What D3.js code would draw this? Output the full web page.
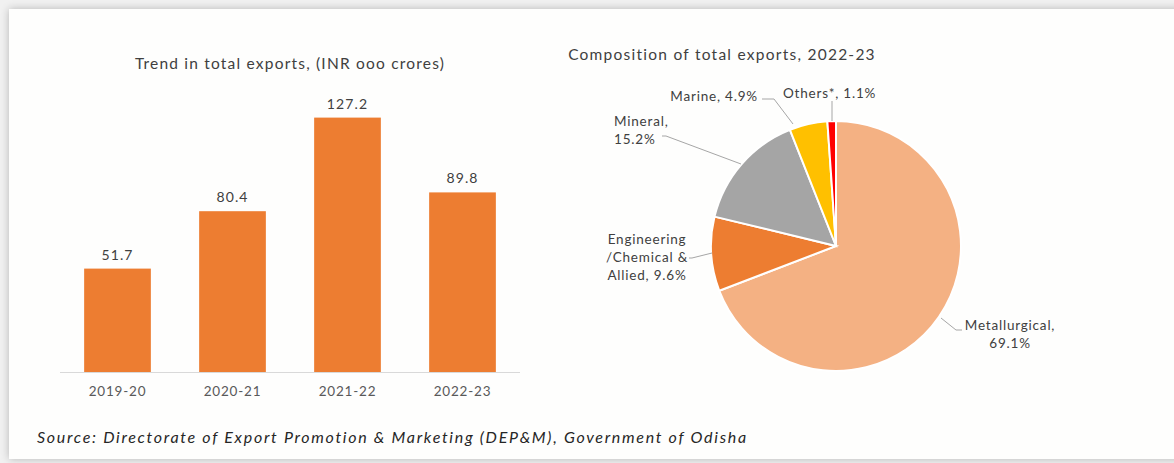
<!DOCTYPE html>
<html>
<head>
<meta charset="utf-8">
<script src="https://cdn.jsdelivr.net/npm/d3@7"></script>
<style>
  html, body { margin: 0; padding: 0; background: #ececec; }
  svg { display: block; font-family: "Lato", "Noto Sans", sans-serif; }
</style>
</head>
<body>
<div id="chart"></div>
<script>
// data
const years = ["2019-20", "2020-21", "2021-22", "2022-23"];
const exportsValue = [51.7, 80.4, 127.2, 89.8];

const sectors = ["Metallurgical", "Engineering /Chemical & Allied", "Mineral", "Marine", "Others*"];
const sectorShare = [69.1, 9.6, 15.2, 4.9, 1.1];
const sectorColors = ["#F4B183", "#ED7D31", "#A5A5A5", "#FFC000", "#FF0000"];

const W = 1174, H = 463;

const svg = d3.select("#chart")
  .append("svg")
    .attr("width", W)
    .attr("height", H);

// card with soft shadow
const defs = svg.append("defs");
const f = defs.append("filter").attr("id", "shadow").attr("x", "-5%").attr("y", "-5%").attr("width", "110%").attr("height", "110%");
f.append("feGaussianBlur").attr("in", "SourceAlpha").attr("stdDeviation", 4);
f.append("feOffset").attr("dx", 0).attr("dy", 0).attr("result", "blur");
f.append("feComponentTransfer").append("feFuncA").attr("type", "linear").attr("slope", 0.25);
const fm = f.append("feMerge");
fm.append("feMergeNode");
fm.append("feMergeNode").attr("in", "SourceGraphic");

svg.append("rect").attr("width", W).attr("height", H).attr("fill", "#f1f1f1");
svg.append("rect")
  .attr("x", 9).attr("y", 9)
  .attr("width", W + 20).attr("height", 450)
  .attr("fill", "#fefefd")
  .attr("filter", "url(#shadow)");

// ---------- bar chart ----------
const x = d3.scaleBand()
  .domain(years)
  .range([60, 520])
  .paddingInner(0.42)
  .paddingOuter(0.21);

const y = d3.scaleLinear()
  .domain([0, 140])
  .range([372, 92]);

svg.append("text")
  .attr("x", 290).attr("y", 69)
  .attr("text-anchor", "middle")
  .attr("font-size", 15.5)
  .attr("letter-spacing", 1.2)
  .attr("fill", "#404040")
  .text("Trend in total exports, (INR ooo crores)");

const barData = years.map((d, i) => ({year: d, value: exportsValue[i]}));

svg.append("g")
  .selectAll("rect")
  .data(barData)
  .join("rect")
    .attr("x", d => x(d.year))
    .attr("y", d => y(d.value))
    .attr("width", x.bandwidth())
    .attr("height", d => y(0) - y(d.value))
    .attr("fill", "#ED7D31");

svg.append("g")
  .selectAll("text")
  .data(barData)
  .join("text")
    .attr("x", d => x(d.year) + x.bandwidth() / 2)
    .attr("y", d => y(d.value) - 9)
    .attr("text-anchor", "middle")
    .attr("font-size", 14)
    .attr("letter-spacing", 1.1)
    .attr("fill", "#404040")
    .text(d => d.value.toFixed(1));

// x axis
const xAxis = svg.append("g")
  .attr("transform", `translate(0,${y(0)})`)
  .call(d3.axisBottom(x).tickSize(0).tickPadding(14));
xAxis.select(".domain").attr("stroke", "#d9d9d9").attr("d", "M60,0.5H520");
xAxis.selectAll("text")
  .attr("font-family", "Lato, 'Noto Sans', sans-serif")
  .attr("font-size", 13.5)
  .attr("letter-spacing", 0.8)
  .attr("fill", "#595959");

// ---------- pie chart ----------
const cx = 836, cy = 246, r = 125;

svg.append("text")
  .attr("x", 722).attr("y", 60)
  .attr("text-anchor", "middle")
  .attr("font-size", 15.5)
  .attr("letter-spacing", 1.25)
  .attr("fill", "#404040")
  .text("Composition of total exports, 2022-23");

const pieData = sectors.map((d, i) => ({name: d, value: sectorShare[i], color: sectorColors[i]}));

const pie = d3.pie().sort(null).value(d => d.value);
const arcs = pie(pieData);
const arc = d3.arc().innerRadius(0).outerRadius(r);

const pg = svg.append("g").attr("transform", `translate(${cx},${cy})`);

pg.selectAll("path")
  .data(arcs)
  .join("path")
    .attr("d", arc)
    .attr("fill", d => d.data.color)
    .attr("stroke", "#ffffff")
    .attr("stroke-width", 2);

// label layout (relative to pie centre)
const labelLayout = {
  "Metallurgical":                  {lines: ["Metallurgical,", "69.1%"], x: 174, y: 84, anchor: "middle", line: [[105, 72], [120, 84], [126, 84]]},
  "Engineering /Chemical & Allied": {lines: ["Engineering", "/Chemical &", "Allied, 9.6%"], x: -189, y: -2, anchor: "middle", line: [[-124, 7], [-144, 12], [-147, 12]]},
  "Mineral":                        {lines: ["Mineral,", "15.2%"], x: -222, y: -120, anchor: "start", line: [[-95, -82], [-170, -110], [-174, -110]]},
  "Marine":                         {lines: ["Marine, 4.9%"], x: -78, y: -145, anchor: "end", line: [[-43, -122], [-62, -147], [-74, -147]]},
  "Others*":                        {lines: ["Others*, 1.1%"], x: -53, y: -148, anchor: "start", line: [[-4, -125], [-4, -145]]}
};

const lineGen = d3.line();

pg.selectAll("path.leader")
  .data(arcs)
  .join("path")
    .attr("class", "leader")
    .attr("d", d => lineGen(labelLayout[d.data.name].line))
    .attr("fill", "none")
    .attr("stroke", "#a6a6a6")
    .attr("stroke-width", 1);

const lbl = pg.selectAll("text.lbl")
  .data(arcs)
  .join("text")
    .attr("class", "lbl")
    .attr("text-anchor", d => labelLayout[d.data.name].anchor)
    .attr("font-size", 13.5)
    .attr("letter-spacing", 0.8)
    .attr("fill", "#404040");

lbl.each(function(d) {
  const L = labelLayout[d.data.name];
  d3.select(this).selectAll("tspan")
    .data(L.lines)
    .join("tspan")
      .attr("x", L.x)
      .attr("y", (t, i) => L.y + i * 18)
      .text(t => t);
});

// source
svg.append("text")
  .attr("x", 37).attr("y", 443)
  .attr("font-size", 16)
  .attr("font-style", "italic")
  .attr("letter-spacing", 1.7)
  .attr("fill", "#262626")
  .text("Source: Directorate of Export Promotion & Marketing (DEP&M), Government of Odisha");
</script>
</body>
</html>
